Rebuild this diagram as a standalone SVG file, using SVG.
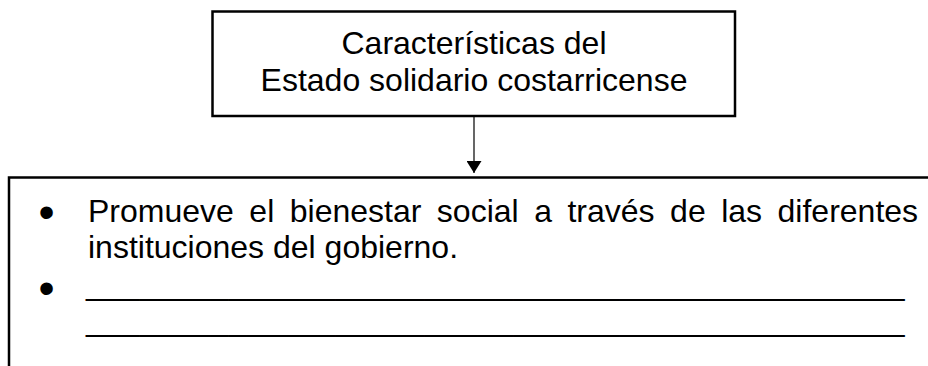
<svg xmlns="http://www.w3.org/2000/svg" width="928" height="366" viewBox="0 0 928 366">
<style>
.box{fill:#fff;stroke:#000;stroke-width:2.5}
.t{font-family:"Liberation Sans",Arial,sans-serif;font-size:32px;fill:#000}
.c{text-anchor:middle}
.b{font-family:"Liberation Sans",Arial,sans-serif;font-size:46px;fill:#000}
.conn{stroke:#000;stroke-width:1.2;fill:none}
</style>
<defs>
<marker id="ah" viewBox="0 0 12 15" refX="12" refY="7.5" markerWidth="12" markerHeight="15" markerUnits="userSpaceOnUse" orient="auto">
<path d="M0,0 L12,7.5 L0,15 Z" fill="#000"/>
</marker>
</defs>
<rect width="928" height="366" fill="#fff"/>
<g id="node-title">
<rect class="box" x="212.5" y="11.5" width="522.5" height="104.5"/>
<text class="t c" x="474" y="54">Características del</text>
<text class="t c" x="474" y="91">Estado solidario costarricense</text>
</g>
<g id="connectors">
<line class="conn" x1="474" y1="117" x2="474" y2="173" marker-end="url(#ah)"/>
</g>
<g id="node-list">
<path class="box" d="M9,366 V177.5 H940" fill="none"/>
<text class="b" x="38.5" y="228">•</text>
<text class="t" x="88" y="222" word-spacing="6.6">Promueve el bienestar social a través de las diferentes</text>
<text class="t" x="88" y="258">instituciones del gobierno.</text>
<text class="b" x="38.5" y="304">•</text>
<text class="t" x="86" y="295">______________________________________________</text>
<text class="t" x="86" y="331">______________________________________________</text>
</g>
</svg>
